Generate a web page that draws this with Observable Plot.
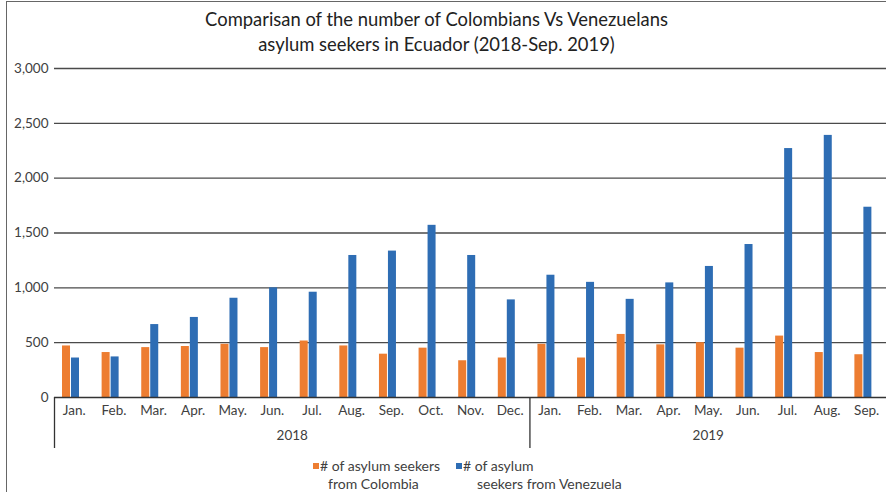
<!DOCTYPE html>
<html>
<head>
<meta charset="utf-8">
<script src="https://cdn.jsdelivr.net/npm/d3@7"></script>
<script src="https://cdn.jsdelivr.net/npm/@observablehq/plot@0.6"></script>
<style>
  html, body { margin: 0; padding: 0; background: #fff; }
  #wrap { position: relative; width: 886px; height: 492px; overflow: hidden; font-family: Lato, "Open Sans", sans-serif; color: #404040; }
  #frame { position: absolute; left: 6px; top: 1px; width: 900px; height: 500px; border-left: 1.5px solid #666; border-top: 1.5px solid #666; }
  #title { position: absolute; left: 7px; top: 7px; width: 859px; padding-right: 20px; text-align: center; font-size: 18.4px; line-height: 25px; color: #222; }
  #chart { position: absolute; left: 0; top: 60px; }
  .leg { position: absolute; font-size: 14px; line-height: 18px; color: #404040; }
  .sw { position: absolute; width: 6px; height: 6px; }
</style>
</head>
<body>
<div id="wrap">
  <div id="frame"></div>
  <div id="title">Comparisan of the number of Colombians Vs Venezuelans<br>asylum seekers in Ecuador (2018-Sep. 2019)</div>
  <div id="chart"></div>
  <div class="sw" id="sw1" style="left:313px; top:463px;"></div>
  <div class="leg" style="left:320px; top:457px;"># of asylum seekers<br><span style="padding-left:8px">from Colombia</span></div>
  <div class="sw" id="sw2" style="left:456px; top:463px;"></div>
  <div class="leg" style="left:463px; top:457px;"># of asylum<br><span style="padding-left:14px">seekers from Venezuela</span></div>
</div>
<script>
const years = ["2018", "2019"];
const months2018 = ["Jan.", "Feb.", "Mar.", "Apr.", "May.", "Jun.", "Jul.", "Aug.", "Sep.", "Oct.", "Nov.", "Dec."];
const months2019 = ["Jan.", "Feb.", "Mar.", "Apr.", "May.", "Jun.", "Jul.", "Aug.", "Sep."];
const colombia2018 = [470, 410, 455, 465, 485, 455, 515, 470, 395, 450, 335, 360];
const colombia2019 = [485, 360, 575, 480, 500, 450, 560, 410, 390];
const venezuela2018 = [360, 370, 665, 730, 905, 1000, 960, 1295, 1335, 1570, 1295, 890];
const venezuela2019 = [1115, 1050, 895, 1045, 1195, 1395, 2270, 2390, 1735];
const yTicks = [0, 500, 1000, 1500, 2000, 2500, 3000];
const seriesNames = ["# of asylum seekers from Colombia", "# of asylum seekers from Venezuela"];
const colors = ["#ED7D31", "#2E6DB4"];

document.getElementById("sw1").style.background = colors[0];
document.getElementById("sw2").style.background = colors[1];

const rows = [];
const groups = [];
[[months2018, colombia2018, venezuela2018], [months2019, colombia2019, venezuela2019]].forEach(([ms, col, ven], g) => {
  const start = rows.length;
  ms.forEach((m, k) => rows.push({i: rows.length, month: m, year: years[g], col: col[k], ven: ven[k]}));
  groups.push({year: years[g], start, end: rows.length - 1});
});
const yearMid = new Map(groups.map(g => [(g.start + g.end) / 2, g.year]));
const separators = groups.map(g => g.start - 0.5);

const chart = Plot.plot({
  width: 886,
  height: 393,
  marginTop: 8,
  marginBottom: 56,
  marginLeft: 54,
  marginRight: 0,
  style: {fontFamily: "Lato, 'Open Sans', sans-serif", fontSize: "13.5px", color: "#404040", background: "transparent"},
  x: {domain: [-0.5, rows.length - 0.5], axis: null},
  y: {domain: [0, 3000], axis: null},
  marks: [
    Plot.ruleY(yTicks.filter(t => t > 0), {stroke: "#4a4a4a", strokeWidth: 1.4}),
    Plot.axisY(yTicks, {tickSize: 0, tickPadding: 6, tickFormat: d3.format(","), fill: "#404040"}),
    Plot.rectY(rows, {x1: d => d.i - 0.298, x2: d => d.i - 0.096, y: "col", fill: colors[0], title: d => seriesNames[0]}),
    Plot.rectY(rows, {x1: d => d.i - 0.071, x2: d => d.i + 0.131, y: "ven", fill: colors[1], title: d => seriesNames[1]}),
    Plot.ruleY([0], {stroke: "#333", strokeWidth: 1.5}),
    Plot.axisX(rows.map(d => d.i), {tickSize: 0, tickPadding: 8, tickFormat: i => rows[i].month, fill: "#404040"}),
    Plot.axisX([...yearMid.keys()], {tickSize: 0, tickPadding: 33, tickFormat: v => yearMid.get(v), fill: "#404040"}),
    Plot.axisX(separators, {tickSize: 51, tickFormat: () => "", stroke: "#333", strokeWidth: 1.3})
  ]
});
document.getElementById("chart").appendChild(chart);
</script>
</body>
</html>
